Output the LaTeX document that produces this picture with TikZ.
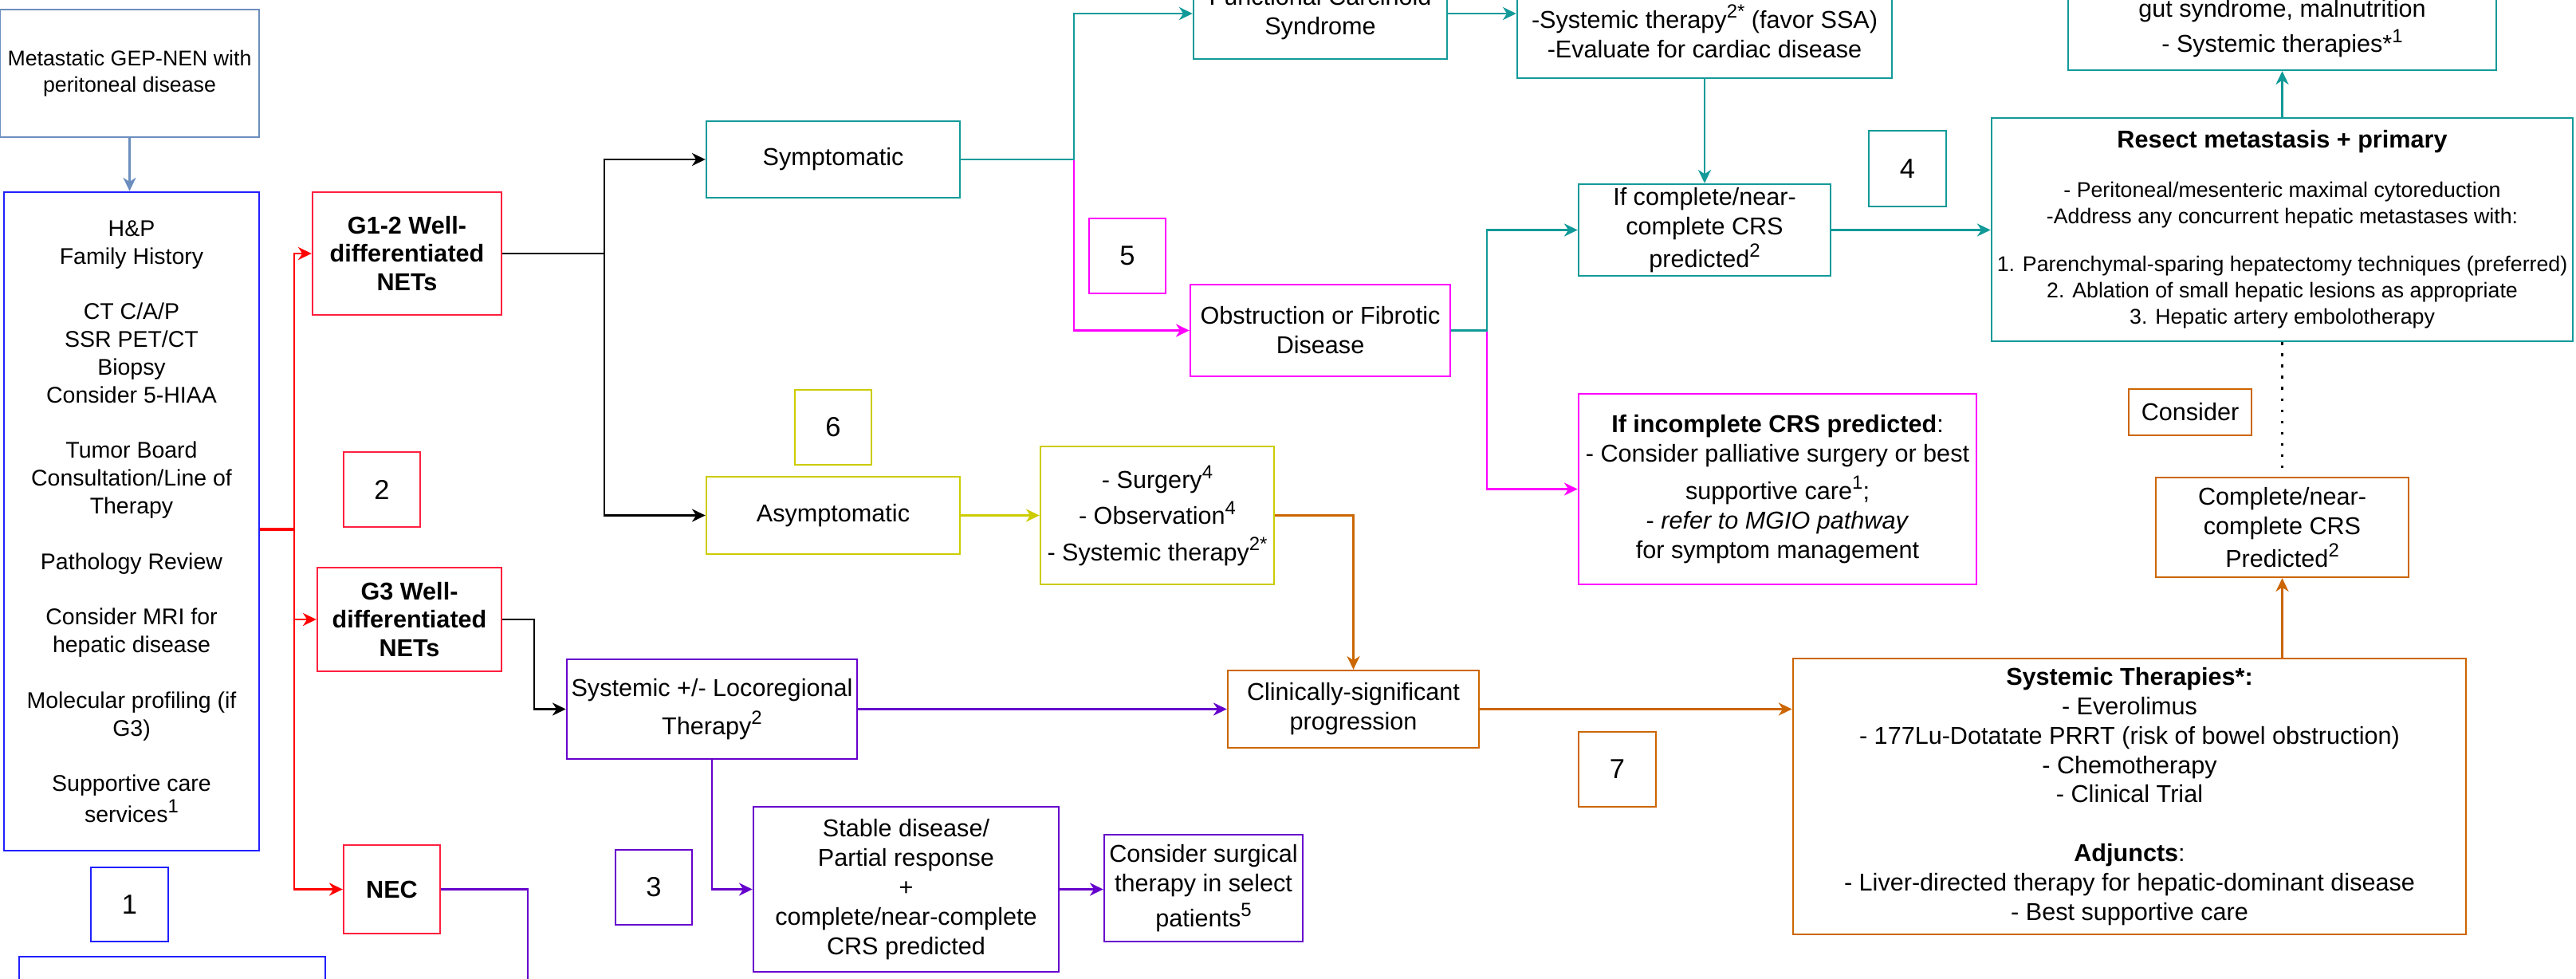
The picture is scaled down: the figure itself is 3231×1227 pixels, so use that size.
\documentclass[tikz,border=0pt]{standalone}
\usepackage{fontspec}
\setmainfont{Liberation Sans}
\usetikzlibrary{arrows.meta, positioning, calc}

\definecolor{steel}{HTML}{6C8EBF}
\definecolor{hpblue}{HTML}{2020FF}
\definecolor{netred}{HTML}{FF1F3F}
\definecolor{linkred}{HTML}{FF0000}
\definecolor{tealc}{HTML}{129A99}
\definecolor{magc}{HTML}{FF00FF}
\definecolor{olivec}{HTML}{CCCC00}
\definecolor{orngc}{HTML}{CC6600}
\definecolor{purpc}{HTML}{6600CC}
\newcommand{\up}[1]{\raisebox{0.42em}{\fontsize{6.8}{8}\selectfont #1}}

\begin{document}
\begin{tikzpicture}[
    x=0.01cm, y=-0.01cm,
    box/.style={rectangle, draw, line width=0.65pt, inner sep=1pt, align=center, font=\fontsize{8.7}{10.5}\selectfont},
    netbox/.style={box, draw=netred, font=\fontsize{8.7}{10.1}\selectfont\bfseries},
    numbox/.style={rectangle, draw, line width=0.65pt, minimum width=0.96cm, minimum height=0.94cm, font=\fontsize{9.8}{12}\selectfont},
    arrow/.style={-{Stealth[length=4.8pt, width=4.6pt, inset=1.5pt]}, line width=0.6pt},
    link/.style={line width=0.6pt},
    dotline/.style={line width=1pt, dash pattern=on 1pt off 3pt}
]
\useasboundingbox (0,0) rectangle (3231,1227);

% Work-up
\node[box, draw=steel, minimum width=3.25cm, minimum height=1.6cm, font=\fontsize{7.6}{9.3}\selectfont] (meta) at (162.5,92) {Metastatic GEP-NEN with\\peritoneal disease};
\node[box, draw=hpblue, minimum width=3.2cm, minimum height=8.26cm, font=\fontsize{8.1}{9.9}\selectfont] (workup) at (165,654) {H\&P\\Family History\\[9.9pt]CT C/A/P\\SSR PET/CT\\Biopsy\\Consider 5-HIAA\\[9.9pt]Tumor Board\\Consultation/Line of\\Therapy\\[9.9pt]Pathology Review\\[9.9pt]Consider MRI for\\hepatic disease\\[9.9pt]Molecular profiling (if\\G3)\\[9.9pt]Supportive care\\[1pt]services\up{1}};
\node[numbox, draw=hpblue, minimum width=0.97cm, minimum height=0.93cm] (n1) at (162.5,1134.5) {1};
\node[box, draw=hpblue, minimum width=3.84cm, minimum height=1cm] (next_box) at (216,1250) {};

% Grade
\node[netbox, minimum width=2.37cm, minimum height=1.54cm] (g12) at (510.5,318) {G1-2 Well-\\differentiated\\NETs};
\node[numbox, draw=netred] (n2) at (479,614) {2};
\node[netbox, minimum width=2.31cm, minimum height=1.3cm] (g3) at (513.5,777) {G3 Well-\\differentiated\\NETs};
\node[netbox, minimum width=1.21cm, minimum height=1.11cm] (nec) at (491.5,1115.5) {NEC};

% Symptomatic branch
\node[box, draw=tealc, minimum width=3.18cm, minimum height=0.96cm] (sympt) at (1045,200) {Symptomatic};
\node[box, draw=tealc, minimum width=3.18cm, minimum height=1.14cm] (fcs) at (1656,17) {Functional Carcinoid\\Syndrome};
\node[box, draw=tealc, minimum width=4.7cm, minimum height=1.17cm] (ssa) at (2138,39.5) {-Systemic therapy\up{2*} (favor SSA)\\-Evaluate for cardiac disease};
\node[box, draw=tealc, minimum width=3.16cm, minimum height=1.15cm] (crs_ok) at (2138,288.5) {If complete/near-\\complete CRS\\[1pt]predicted\up{2}};
\node[numbox, draw=tealc, minimum width=0.97cm, minimum height=0.95cm] (n4) at (2392.5,211.5) {4};
\node[box, draw=tealc, minimum width=7.29cm, minimum height=2.8cm, font=\fontsize{7.6}{9.4}\selectfont] (resect) at (2862.5,288) {{\fontsize{8.7}{10.5}\selectfont\bfseries Resect metastasis + primary}\\[8.2pt]- Peritoneal/mesenteric maximal cytoreduction\\-Address any concurrent hepatic metastases with:\\[7.7pt]1. Parenchymal-sparing hepatectomy techniques (preferred)\\2. Ablation of small hepatic lesions as appropriate\\3. Hepatic artery embolotherapy};
\node[box, draw=tealc, minimum width=5.37cm, minimum height=1.04cm] (gut) at (2862.5,36) {gut syndrome, malnutrition\\[2pt]- Systemic therapies*\up{1}};

\node[numbox, draw=magc] (n5) at (1414,321) {5};
\node[box, draw=magc, minimum width=3.26cm, minimum height=1.15cm] (obstr) at (1656,414.5) {Obstruction or Fibrotic\\Disease};
\node[box, draw=magc, minimum width=4.99cm, minimum height=2.39cm] (crs_inc) at (2229.5,613.5) {\textbf{If incomplete CRS predicted}:\\- Consider palliative surgery or best\\[2.8pt]supportive care\up{1};\\- \textit{refer to MGIO pathway}\\for symptom management};

% Asymptomatic branch
\node[numbox, draw=olivec] (n6) at (1045,536) {6};
\node[box, draw=olivec, minimum width=3.18cm, minimum height=0.97cm] (asympt) at (1045,646.5) {Asymptomatic};
\node[box, draw=olivec, minimum width=2.93cm, minimum height=1.73cm, font=\fontsize{8.7}{12.8}\selectfont] (watch) at (1451.5,646.5) {- Surgery\up{4}\\- Observation\up{4}\\- Systemic therapy\up{2*}};

% G3 branch
\node[box, draw=purpc, minimum width=3.64cm, minimum height=1.25cm] (sys_loco) at (893,889.5) {Systemic +/- Locoregional\\[3pt]Therapy\up{2}};
\node[numbox, draw=purpc] (n3) at (820,1113) {3};
\node[box, draw=purpc, minimum width=3.83cm, minimum height=2.07cm] (stable) at (1136.5,1115.5) {Stable disease/\\Partial response\\+\\complete/near-complete\\CRS predicted};
\node[box, draw=purpc, minimum width=2.49cm, minimum height=1.34cm] (surg_select) at (1509.5,1114) {Consider surgical\\therapy in select\\[2pt]patients\up{5}};

% Progression
\node[box, draw=orngc, minimum width=3.15cm, minimum height=0.97cm] (progress) at (1697.5,889.5) {Clinically-significant\\progression};
\node[numbox, draw=orngc, minimum width=0.97cm] (n7) at (2028.5,965) {7};
\node[box, draw=orngc, minimum width=8.44cm, minimum height=3.46cm] (systher) at (2671,999) {\textbf{Systemic Therapies*:}\\- Everolimus\\- 177Lu-Dotatate PRRT (risk of bowel obstruction)\\- Chemotherapy\\- Clinical Trial\\[10.5pt]\textbf{Adjuncts}:\\- Liver-directed therapy for hepatic-dominant disease\\- Best supportive care};
\node[box, draw=orngc, minimum width=3.17cm, minimum height=1.25cm] (crs_done) at (2862.5,661.5) {Complete/near-\\complete CRS\\[1pt]Predicted\up{2}};
\node[box, draw=orngc, minimum width=1.54cm, minimum height=0.58cm] (consider) at (2747,517) {Consider};

% Arrow Connections
\draw[arrow, steel] (meta.south) -- (meta.south |- workup.north);
\coordinate (red_split) at (369,664);
\draw[linkred, line width=1.2pt] (workup.east |- red_split) -- (red_split);
\draw[arrow, linkred] (red_split) |- (g12.west);
\draw[arrow, linkred] (red_split) |- (g3.west);
\draw[arrow, linkred] (red_split) |- (nec.west);

\coordinate (g12_split) at (758,318);
\draw[link] (g12.east) -- (g12_split);
\draw[arrow] (g12_split) |- (sympt.west);
\draw[arrow] (g12_split) |- (asympt.west);
\draw[arrow] (g3.east) -- ++(40,0) |- (sys_loco.west);
\coordinate (nec_down) at (662,1300);
\draw[link, purpc] (nec.east) -| (nec_down);

\coordinate (sympt_split) at (1347,200);
\draw[arrow, magc] (sympt.east) -- (sympt_split) |- (obstr.west);
\draw[arrow, tealc] (sympt.east) -- (sympt_split) |- (fcs.west);
\draw[arrow, tealc] (fcs.east) -- (fcs.east -| ssa.west);
\draw[arrow, tealc] (ssa.south) -- (crs_ok.north);
\coordinate (obstr_split) at (1865,414.5);
\draw[arrow, magc] (obstr.east) -- (obstr_split) |- (crs_inc.west);
\draw[arrow, tealc] (obstr.east) -- (obstr_split) |- (crs_ok.west);
\draw[arrow, tealc] (crs_ok.east) -- (crs_ok.east -| resect.west);
\draw[arrow, tealc] (resect.north) -- (gut.south);
\draw[dotline] (resect.south) -- (crs_done.north);

\draw[arrow, olivec] (asympt.east) -- (watch.west);
\draw[arrow, orngc] (watch.east) -| (progress.north);
\draw[arrow, purpc] (sys_loco.east) -- (progress.west);
\draw[arrow, purpc] (sys_loco.south) |- (stable.west);
\draw[arrow, purpc] (stable.east) -- (stable.east -| surg_select.west);
\draw[arrow, orngc] (progress.east) -- (progress.east -| systher.west);
\draw[arrow, orngc] (crs_done.south |- systher.north) -- (crs_done.south);
\end{tikzpicture}
\end{document}
